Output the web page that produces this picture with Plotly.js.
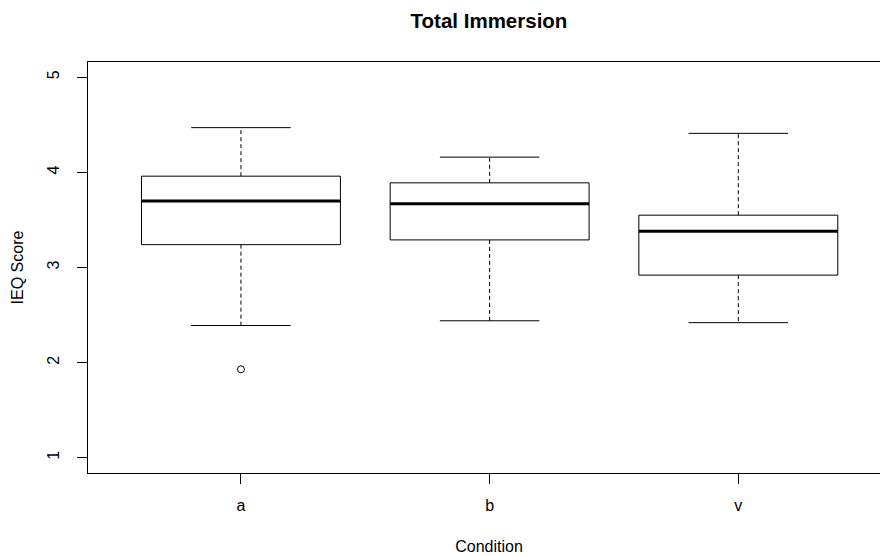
<!DOCTYPE html>
<html>
<head>
<meta charset="utf-8">
<script src="https://cdn.plot.ly/plotly-3.0.1.min.js"></script>
<style>
  html, body { margin: 0; padding: 0; background: #fff; overflow: hidden; }
  #wrap { width: 880px; height: 556px; overflow: hidden; }
  #chart { width: 893px; height: 556px; }
</style>
</head>
<body>
<div id="wrap"><div id="chart"></div></div>
<script>
// ---- data ----
const categories   = ['a', 'b', 'v'];
const lowerWhisker = [2.39, 2.44, 2.42];
const q1           = [3.24, 3.29, 2.92];
const median       = [3.70, 3.67, 3.38];
const q3           = [3.96, 3.89, 3.55];
const upperWhisker = [4.47, 4.16, 4.41];
const outlierCat   = ['a'];
const outlierVal   = [1.93];
const yTicks       = [1, 2, 3, 4, 5];

// ---- build traces ----
const HALF = 0.4, CAP = 0.2;
const pos = categories.map((c, i) => i + 1);
const traces = [];
const black = '#000000';

// box outlines
const bx = [], by = [];
pos.forEach((p, i) => {
  bx.push(p - HALF, p + HALF, p + HALF, p - HALF, p - HALF, null);
  by.push(q1[i], q1[i], q3[i], q3[i], q1[i], null);
});
traces.push({x: bx, y: by, mode: 'lines', line: {color: black, width: 1}, hoverinfo: 'skip'});

// whiskers (dashed)
const wx = [], wy = [];
pos.forEach((p, i) => {
  wx.push(p, p, null, p, p, null);
  wy.push(q3[i], upperWhisker[i], null, q1[i], lowerWhisker[i], null);
});
traces.push({x: wx, y: wy, mode: 'lines', line: {color: black, width: 1, dash: '4px,3px'}, hoverinfo: 'skip'});

// staples
const sx = [], sy = [];
pos.forEach((p, i) => {
  sx.push(p - CAP, p + CAP, null, p - CAP, p + CAP, null);
  sy.push(upperWhisker[i], upperWhisker[i], null, lowerWhisker[i], lowerWhisker[i], null);
});
traces.push({x: sx, y: sy, mode: 'lines', line: {color: black, width: 1}, hoverinfo: 'skip'});

// medians (thick)
const mx = [], my = [];
pos.forEach((p, i) => {
  mx.push(p - HALF, p + HALF, null);
  my.push(median[i], median[i], null);
});
traces.push({x: mx, y: my, mode: 'lines', line: {color: black, width: 3}, hoverinfo: 'skip'});

// outliers
traces.push({
  x: outlierCat.map(c => categories.indexOf(c) + 1),
  y: outlierVal,
  mode: 'markers',
  marker: {symbol: 'circle-open', size: 7, color: black, line: {width: 1, color: black}},
  hoverinfo: 'skip'
});

const fontFam = 'Liberation Sans, Arial, sans-serif';
const layout = {
  width: 893, height: 556,
  margin: {l: 88, r: 3, t: 62, b: 83},
  paper_bgcolor: '#ffffff', plot_bgcolor: '#ffffff',
  showlegend: false,
  font: {family: fontFam, size: 16, color: black},
  title: {
    text: '<b>Total Immersion</b>',
    font: {family: fontFam, size: 20.5, color: black},
    x: 0.5, xref: 'paper', xanchor: 'center',
    y: 1 - 21 / 556, yref: 'container', yanchor: 'middle'
  },
  xaxis: {
    range: [0.385, 3.61],
    tickmode: 'array', tickvals: pos, ticktext: categories,
    ticks: 'outside', ticklen: 10, tickwidth: 1, tickcolor: black,
    ticklabelstandoff: 8,
    showline: true, linecolor: black, linewidth: 1, mirror: true,
    showgrid: false, zeroline: false,
    tickfont: {family: fontFam, size: 16, color: black},
    title: {text: 'Condition', font: {family: fontFam, size: 16, color: black}, standoff: 27},
    automargin: false
  },
  yaxis: {
    range: [0.84, 5.16],
    tickmode: 'array', tickvals: yTicks, ticktext: yTicks.map(String),
    ticks: 'outside', ticklen: 10, tickwidth: 1, tickcolor: black,
    tickangle: -90, ticklabelstandoff: 12,
    showline: true, linecolor: black, linewidth: 1, mirror: true,
    showgrid: false, zeroline: false,
    tickfont: {family: fontFam, size: 16, color: black},
    title: {text: 'IEQ Score', font: {family: fontFam, size: 16, color: black}, standoff: 16},
    automargin: false
  }
};

Plotly.newPlot('chart', traces, layout, {displayModeBar: false, staticPlot: true});
</script>
</body>
</html>
